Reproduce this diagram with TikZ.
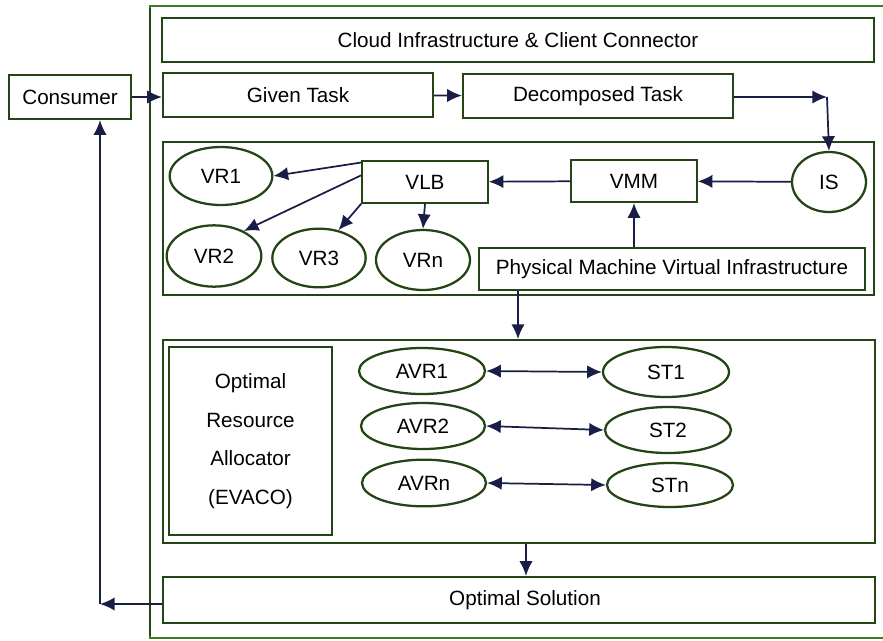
\documentclass[tikz,border=0pt]{standalone}
\usepackage{fontspec}
\setmainfont{Liberation Sans}
\usetikzlibrary{shapes.geometric,arrows.meta}

\definecolor{boxgreen}{RGB}{35,68,20}
\definecolor{framegreen}{RGB}{55,125,35}
\definecolor{arrnavy}{RGB}{25,30,70}

\begin{document}
\begin{tikzpicture}[x=0.75pt,y=0.75pt]
\tikzstyle{every node}+=[inner sep=0pt,font=\fontsize{15.5}{18}\selectfont]
\tikzstyle{box}=[draw=boxgreen,line width=1.7pt,rectangle]
\tikzstyle{oval}=[draw=boxgreen,line width=1.7pt,ellipse]
\tikzstyle{arr}=[draw=arrnavy,line width=1.3pt,-{Latex[length=11pt,width=10pt]}]
\tikzstyle{dblarr}=[draw=arrnavy,line width=1.3pt,{Latex[length=11pt,width=10pt]}-{Latex[length=11pt,width=10pt]}]
\useasboundingbox (0,0) rectangle (883,-640);
\fill[white] (0,0) rectangle (883,-640);
% outer frame
\draw[framegreen,line width=1.3pt] (884,-6) -- (150,-6) -- (150,-638) -- (884,-638);
\draw[boxgreen,line width=1.3pt] (150,-8) -- (150,-636);
% top row
\node[box,minimum width=534pt,minimum height=33pt] (cloud) at (518,-40) {Cloud Infrastructure \& Client Connector};
\node[box,minimum width=91.5pt,minimum height=33pt] (consumer) at (70,-97) {Consumer};
\node[box,minimum width=202.5pt,minimum height=33pt] (given) at (298,-95) {Given Task};
\node[box,minimum width=202.5pt,minimum height=33.5pt] (decomp) at (598,-96) {Decomposed Task};
% virtualisation layer
\node[box,minimum width=533pt,minimum height=115pt] (vlayer) at (518.5,-218.5) {};
\node[oval,minimum width=77pt,minimum height=43.5pt] (VR1) at (221,-176) {VR1};
\node[box,minimum width=94pt,minimum height=31pt] (VLB) at (425,-182) {VLB};
\node[box,minimum width=94pt,minimum height=31.5pt] (VMM) at (634,-181) {VMM};
\node[oval,minimum width=55.5pt,minimum height=45pt] (IS) at (829,-182) {IS};
\node[oval,minimum width=71pt,minimum height=46pt] (VR2) at (214,-256) {VR2};
\node[oval,minimum width=70pt,minimum height=44pt] (VR3) at (319,-258) {VR3};
\node[oval,minimum width=70.5pt,minimum height=45pt] (VRn) at (423,-260) {VRn};
\node[box,minimum width=289pt,minimum height=31.5pt] (PMVI) at (672,-269) {Physical Machine Virtual Infrastructure};
% allocation layer
\node[box,minimum width=534pt,minimum height=152pt] (alayer) at (519,-441.5) {};
\node[box,minimum width=122pt,minimum height=141pt,align=center,
  font=\fontsize{15.5}{29}\selectfont] (alloc) at (250.5,-441) {Optimal\\Resource\\Allocator\\(EVACO)};
\node[oval,minimum width=94.5pt,minimum height=34.5pt] (AVR1) at (422,-371) {AVR1};
\node[oval,minimum width=93pt,minimum height=34.5pt] (AVR2) at (423,-426) {AVR2};
\node[oval,minimum width=93pt,minimum height=35pt] (AVRn) at (424,-483) {AVRn};
\node[oval,minimum width=94.5pt,minimum height=37.5pt] (ST1) at (666,-372) {ST1};
\node[oval,minimum width=94.5pt,minimum height=34.5pt] (ST2) at (668,-430) {ST2};
\node[oval,minimum width=94.5pt,minimum height=33pt] (STn) at (670,-485) {STn};
\node[box,minimum width=534pt,minimum height=34.5pt] (sol) at (519,-600) {};
\node (soltext) at (525,-600) {Optimal Solution};
% bends and drop points
\coordinate (bendIS) at (827,-97);
\coordinate (bendback) at (100,-604);
\coordinate (drop1) at (518,0);
\coordinate (drop2) at (526,0);
% connectors
\draw[arr] (consumer.east) -- (consumer.east -| given.west);
\draw[arr] (given) -- (decomp);
\draw[arr] (decomp.east |- bendIS) -- (bendIS);
\draw[arr] (bendIS) -- (IS.north);
\draw[arr] (IS) -- (VMM);
\draw[arr] (VMM) -- (VLB);
\draw[arr] (PMVI.north -| VMM.south) -- (VMM.south);
\draw[arr] (VLB.163) -- (VR1.east);
\draw[arr] (VLB.174) -- (VR2.40);
\draw[arr] (VLB.south west) -- (VR3.55);
\draw[arr] (VLB.south) -- (VRn.north);
\draw[arr] (PMVI.south -| drop1) -- (alayer.north -| drop1);
\draw[dblarr] (AVR1.east) -- (ST1.west);
\draw[dblarr] (AVR2.east) -- (ST2.west);
\draw[dblarr] (AVRn.east) -- (STn.west);
\draw[arr] (alayer.south -| drop2) -- (sol.north -| drop2);
\draw[arr] (sol.west |- bendback) -- (bendback);
\draw[arr] (bendback) -- (consumer.south -| bendback);
\end{tikzpicture}
\end{document}
